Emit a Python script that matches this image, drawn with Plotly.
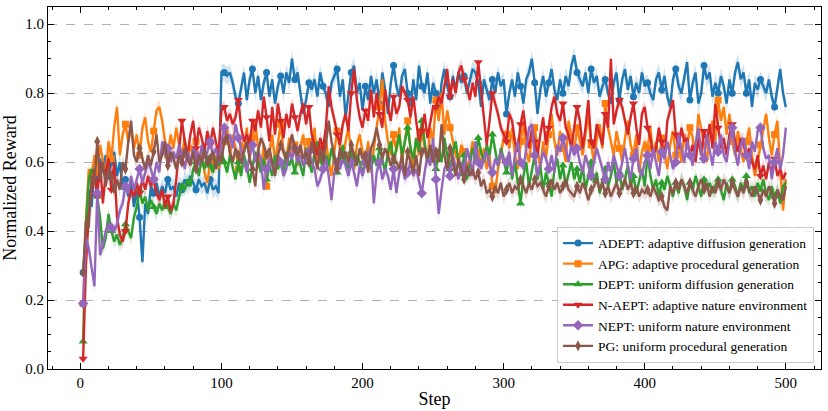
import plotly.graph_objects as go

# training steps (every 2 steps)
steps = list(range(2, 502, 2))

adept = [
    0.28, 0.41, 0.52, 0.47, 0.58, 0.55, 0.61, 0.57, 0.62, 0.55, 0.60, 0.63, 0.56, 0.60, 0.52, 0.55, 0.50, 0.54, 0.47, 0.52, 0.44, 0.31, 0.48, 0.45, 0.53,
    0.51, 0.54, 0.50, 0.53, 0.51, 0.55, 0.52, 0.53, 0.50, 0.54, 0.52, 0.55, 0.53, 0.56, 0.54, 0.52, 0.55, 0.53, 0.54, 0.51, 0.55, 0.52, 0.53, 0.51, 0.86,
    0.86, 0.85, 0.86, 0.83, 0.79, 0.77, 0.82, 0.86, 0.78, 0.84, 0.87, 0.80, 0.85, 0.78, 0.83, 0.86, 0.79, 0.84, 0.77, 0.82, 0.85, 0.80, 0.86, 0.83, 0.90,
    0.84, 0.86, 0.80, 0.74, 0.78, 0.83, 0.81, 0.84, 0.79, 0.86, 0.82, 0.80, 0.76, 0.83, 0.85, 0.87, 0.79, 0.84, 0.73, 0.80, 0.86, 0.88, 0.80, 0.83, 0.75,
    0.82, 0.78, 0.85, 0.80, 0.84, 0.77, 0.86, 0.81, 0.74, 0.83, 0.88, 0.82, 0.79, 0.85, 0.87, 0.80, 0.76, 0.84, 0.78, 0.88, 0.82, 0.80, 0.86, 0.77, 0.83,
    0.80, 0.74, 0.83, 0.87, 0.82, 0.79, 0.85, 0.81, 0.86, 0.83, 0.85, 0.80, 0.84, 0.87, 0.86, 0.83, 0.76, 0.84, 0.81, 0.78, 0.84, 0.80, 0.86, 0.82, 0.84,
    0.74, 0.80, 0.84, 0.79, 0.86, 0.82, 0.77, 0.84, 0.86, 0.90, 0.83, 0.74, 0.81, 0.85, 0.79, 0.83, 0.87, 0.81, 0.78, 0.84, 0.80, 0.85, 0.82, 0.88, 0.91,
    0.86, 0.84, 0.82, 0.86, 0.80, 0.87, 0.83, 0.85, 0.79, 0.82, 0.84, 0.80, 0.77, 0.83, 0.86, 0.78, 0.84, 0.87, 0.81, 0.85, 0.79, 0.83, 0.80, 0.86, 0.82,
    0.83, 0.80, 0.78, 0.84, 0.86, 0.81, 0.85, 0.79, 0.76, 0.84, 0.87, 0.82, 0.80, 0.85, 0.89, 0.78, 0.83, 0.86, 0.77, 0.80, 0.88, 0.84, 0.86, 0.79, 0.83,
    0.80, 0.85, 0.82, 0.77, 0.84, 0.80, 0.86, 0.89, 0.84, 0.86, 0.80, 0.84, 0.76, 0.83, 0.81, 0.84, 0.82, 0.80, 0.84, 0.79, 0.76, 0.82, 0.87, 0.80, 0.76,
]

apg = [
    0.19, 0.43, 0.58, 0.55, 0.62, 0.57, 0.65, 0.60, 0.56, 0.66, 0.61, 0.70, 0.76, 0.62, 0.68, 0.71, 0.66, 0.70, 0.64, 0.68, 0.62, 0.70, 0.73, 0.66, 0.63,
    0.69, 0.75, 0.76, 0.72, 0.66, 0.62, 0.68, 0.64, 0.70, 0.65, 0.62, 0.67, 0.60, 0.65, 0.62, 0.66, 0.59, 0.63, 0.57, 0.54, 0.60, 0.57, 0.62, 0.58, 0.63,
    0.66, 0.70, 0.62, 0.68, 0.64, 0.58, 0.66, 0.63, 0.70, 0.61, 0.67, 0.72, 0.64, 0.58, 0.65, 0.53, 0.62, 0.68, 0.60, 0.66, 0.71, 0.63, 0.60, 0.67, 0.62,
    0.65, 0.59, 0.64, 0.68, 0.61, 0.66, 0.63, 0.70, 0.58, 0.65, 0.62, 0.67, 0.60, 0.56, 0.63, 0.69, 0.64, 0.61, 0.66, 0.70, 0.62, 0.58, 0.65, 0.68, 0.63,
    0.60, 0.66, 0.57, 0.64, 0.70, 0.76, 0.84, 0.72, 0.66, 0.62, 0.68, 0.63, 0.70, 0.60, 0.66, 0.72, 0.64, 0.58, 0.67, 0.62, 0.69, 0.64, 0.60, 0.70, 0.66,
    0.78, 0.72, 0.80, 0.68, 0.75, 0.70, 0.66, 0.62, 0.60, 0.65, 0.63, 0.58, 0.61, 0.66, 0.60, 0.63, 0.59, 0.64, 0.58, 0.62, 0.53, 0.51, 0.58, 0.62, 0.67,
    0.68, 0.64, 0.70, 0.62, 0.58, 0.66, 0.72, 0.63, 0.60, 0.67, 0.70, 0.64, 0.58, 0.66, 0.61, 0.68, 0.74, 0.66, 0.62, 0.69, 0.64, 0.60, 0.72, 0.67, 0.63,
    0.70, 0.66, 0.62, 0.68, 0.74, 0.65, 0.60, 0.67, 0.71, 0.64, 0.77, 0.70, 0.66, 0.62, 0.69, 0.64, 0.60, 0.67, 0.72, 0.65, 0.62, 0.68, 0.57, 0.63, 0.66,
    0.64, 0.70, 0.62, 0.66, 0.60, 0.67, 0.63, 0.58, 0.65, 0.69, 0.62, 0.66, 0.60, 0.68, 0.64, 0.70, 0.67, 0.62, 0.74, 0.70, 0.65, 0.60, 0.68, 0.72, 0.66,
    0.78, 0.72, 0.76, 0.68, 0.74, 0.66, 0.62, 0.69, 0.64, 0.60, 0.66, 0.70, 0.62, 0.56, 0.60, 0.65, 0.70, 0.74, 0.67, 0.62, 0.68, 0.72, 0.58, 0.46, 0.55,
]

dept = [
    0.08, 0.42, 0.55, 0.58, 0.56, 0.50, 0.44, 0.35, 0.38, 0.45, 0.40, 0.37, 0.39, 0.36, 0.38, 0.42, 0.40, 0.38, 0.44, 0.47, 0.52, 0.48, 0.50, 0.46, 0.49,
    0.47, 0.45, 0.48, 0.46, 0.49, 0.47, 0.45, 0.48, 0.46, 0.50, 0.53, 0.52, 0.55, 0.53, 0.58, 0.60, 0.56, 0.61, 0.58, 0.62, 0.59, 0.57, 0.61, 0.59, 0.63,
    0.60, 0.57, 0.62, 0.58, 0.55, 0.60, 0.56, 0.62, 0.59, 0.54, 0.58, 0.63, 0.60, 0.57, 0.61, 0.55, 0.59, 0.56, 0.62, 0.58, 0.60, 0.57, 0.63, 0.59, 0.61,
    0.57, 0.62, 0.59, 0.56, 0.64, 0.60, 0.57, 0.63, 0.66, 0.61, 0.58, 0.62, 0.59, 0.64, 0.60, 0.57, 0.61, 0.65, 0.60, 0.58, 0.63, 0.59, 0.62, 0.60, 0.57,
    0.60, 0.63, 0.58, 0.62, 0.59, 0.64, 0.61, 0.57, 0.63, 0.66, 0.60, 0.64, 0.68, 0.62, 0.66, 0.70, 0.64, 0.61, 0.67, 0.63, 0.72, 0.66, 0.60, 0.64, 0.62,
    0.58, 0.64, 0.60, 0.67, 0.62, 0.58, 0.63, 0.66, 0.60, 0.56, 0.62, 0.55, 0.59, 0.64, 0.61, 0.67, 0.63, 0.60, 0.65, 0.62, 0.68, 0.63, 0.59, 0.64, 0.61,
    0.57, 0.62, 0.55, 0.60, 0.54, 0.48, 0.56, 0.60, 0.53, 0.58, 0.62, 0.55, 0.59, 0.52, 0.57, 0.54, 0.50, 0.58, 0.61, 0.55, 0.59, 0.53, 0.57, 0.60, 0.55,
    0.58, 0.54, 0.59, 0.52, 0.56, 0.60, 0.54, 0.57, 0.51, 0.55, 0.58, 0.53, 0.56, 0.60, 0.54, 0.57, 0.52, 0.55, 0.59, 0.53, 0.56, 0.51, 0.55, 0.58, 0.53,
    0.62, 0.56, 0.52, 0.55, 0.50, 0.54, 0.52, 0.56, 0.53, 0.50, 0.54, 0.51, 0.55, 0.53, 0.49, 0.54, 0.52, 0.56, 0.53, 0.50, 0.55, 0.52, 0.54, 0.51, 0.53,
    0.55, 0.52, 0.49, 0.54, 0.51, 0.55, 0.53, 0.50, 0.54, 0.52, 0.56, 0.51, 0.53, 0.50, 0.54, 0.52, 0.55, 0.51, 0.49, 0.53, 0.50, 0.52, 0.48, 0.53, 0.54,
]

naept = [
    0.03, 0.30, 0.45, 0.52, 0.58, 0.50, 0.60, 0.48, 0.57, 0.61, 0.52, 0.60, 0.44, 0.39, 0.37, 0.40, 0.48, 0.52, 0.50, 0.54, 0.51, 0.55, 0.52, 0.56, 0.53,
    0.55, 0.51, 0.49, 0.52, 0.47, 0.50, 0.46, 0.48, 0.55, 0.63, 0.72, 0.66, 0.62, 0.68, 0.72, 0.64, 0.70, 0.67, 0.63, 0.69, 0.65, 0.70, 0.66, 0.62, 0.75,
    0.76, 0.72, 0.74, 0.71, 0.73, 0.78, 0.70, 0.66, 0.68, 0.65, 0.72, 0.69, 0.75, 0.70, 0.79, 0.73, 0.66, 0.76, 0.68, 0.77, 0.72, 0.67, 0.74, 0.70, 0.77,
    0.73, 0.69, 0.74, 0.77, 0.71, 0.76, 0.68, 0.65, 0.62, 0.67, 0.64, 0.70, 0.82, 0.76, 0.72, 0.68, 0.65, 0.71, 0.74, 0.69, 0.80, 0.87, 0.78, 0.73, 0.70,
    0.75, 0.72, 0.81, 0.73, 0.80, 0.74, 0.70, 0.81, 0.76, 0.72, 0.79, 0.74, 0.76, 0.82, 0.80, 0.78, 0.73, 0.79, 0.72, 0.66, 0.69, 0.74, 0.67, 0.71, 0.76,
    0.76, 0.79, 0.77, 0.82, 0.87, 0.79, 0.84, 0.80, 0.86, 0.88, 0.84, 0.82, 0.78, 0.83, 0.79, 0.89, 0.81, 0.74, 0.65, 0.72, 0.80, 0.77, 0.74, 0.70, 0.68,
    0.66, 0.74, 0.72, 0.66, 0.63, 0.71, 0.75, 0.68, 0.64, 0.70, 0.66, 0.62, 0.68, 0.73, 0.65, 0.70, 0.76, 0.79, 0.74, 0.72, 0.77, 0.70, 0.68, 0.64, 0.70,
    0.76, 0.72, 0.64, 0.70, 0.78, 0.66, 0.64, 0.71, 0.68, 0.65, 0.74, 0.70, 0.90, 0.71, 0.75, 0.78, 0.76, 0.72, 0.68, 0.73, 0.77, 0.70, 0.65, 0.74, 0.76,
    0.70, 0.67, 0.62, 0.64, 0.70, 0.66, 0.61, 0.72, 0.75, 0.78, 0.68, 0.64, 0.70, 0.66, 0.67, 0.62, 0.65, 0.60, 0.67, 0.62, 0.69, 0.66, 0.71, 0.64, 0.77,
    0.70, 0.64, 0.67, 0.62, 0.68, 0.71, 0.66, 0.63, 0.67, 0.65, 0.62, 0.64, 0.60, 0.58, 0.62, 0.56, 0.59, 0.55, 0.60, 0.57, 0.61, 0.56, 0.58, 0.55, 0.57,
]

nept = [
    0.19, 0.38, 0.35, 0.30, 0.24, 0.51, 0.33, 0.36, 0.40, 0.42, 0.41, 0.40, 0.42, 0.46, 0.48, 0.53, 0.51, 0.56, 0.52, 0.55, 0.58, 0.54, 0.57, 0.60, 0.58,
    0.55, 0.60, 0.57, 0.66, 0.62, 0.64, 0.60, 0.63, 0.61, 0.65, 0.62, 0.58, 0.63, 0.60, 0.64, 0.62, 0.59, 0.65, 0.61, 0.63, 0.66, 0.62, 0.64, 0.60, 0.66,
    0.70, 0.66, 0.68, 0.64, 0.71, 0.67, 0.63, 0.60, 0.57, 0.62, 0.65, 0.60, 0.63, 0.61, 0.52, 0.58, 0.61, 0.59, 0.57, 0.62, 0.60, 0.56, 0.58, 0.63, 0.61,
    0.64, 0.60, 0.62, 0.59, 0.61, 0.63, 0.60, 0.58, 0.53, 0.55, 0.58, 0.61, 0.56, 0.49, 0.57, 0.60, 0.58, 0.61, 0.59, 0.56, 0.60, 0.57, 0.53, 0.59, 0.56,
    0.60, 0.63, 0.62, 0.48, 0.57, 0.60, 0.55, 0.58, 0.56, 0.52, 0.58, 0.51, 0.57, 0.59, 0.55, 0.57, 0.60, 0.56, 0.58, 0.54, 0.51, 0.57, 0.62, 0.59, 0.67,
    0.55, 0.45, 0.52, 0.58, 0.60, 0.56, 0.62, 0.58, 0.55, 0.60, 0.57, 0.64, 0.61, 0.56, 0.66, 0.60, 0.58, 0.61, 0.63, 0.59, 0.57, 0.61, 0.59, 0.63, 0.60,
    0.60, 0.63, 0.56, 0.62, 0.66, 0.60, 0.58, 0.64, 0.70, 0.71, 0.62, 0.56, 0.60, 0.63, 0.61, 0.58, 0.62, 0.57, 0.65, 0.63, 0.67, 0.64, 0.60, 0.65, 0.62,
    0.64, 0.60, 0.57, 0.62, 0.59, 0.56, 0.60, 0.64, 0.61, 0.58, 0.55, 0.60, 0.57, 0.62, 0.59, 0.56, 0.60, 0.64, 0.59, 0.55, 0.61, 0.64, 0.58, 0.56, 0.60,
    0.62, 0.58, 0.64, 0.60, 0.56, 0.63, 0.61, 0.66, 0.62, 0.58, 0.60, 0.68, 0.64, 0.60, 0.66, 0.62, 0.59, 0.65, 0.70, 0.63, 0.61, 0.68, 0.64, 0.59, 0.66,
    0.63, 0.68, 0.62, 0.60, 0.66, 0.70, 0.63, 0.59, 0.65, 0.67, 0.62, 0.58, 0.66, 0.63, 0.69, 0.70, 0.64, 0.61, 0.62, 0.55, 0.60, 0.64, 0.58, 0.62, 0.70,
]

pg = [
    0.28, 0.43, 0.41, 0.56, 0.54, 0.66, 0.55, 0.60, 0.53, 0.58, 0.56, 0.51, 0.55, 0.52, 0.60, 0.58, 0.66, 0.72, 0.62, 0.60, 0.64, 0.61, 0.58, 0.62, 0.59,
    0.63, 0.68, 0.60, 0.62, 0.66, 0.59, 0.63, 0.61, 0.58, 0.62, 0.60, 0.64, 0.61, 0.59, 0.63, 0.58, 0.62, 0.60, 0.64, 0.59, 0.61, 0.63, 0.58, 0.62, 0.60,
    0.66, 0.68, 0.63, 0.60, 0.64, 0.62, 0.60, 0.63, 0.66, 0.61, 0.58, 0.53, 0.63, 0.67, 0.65, 0.62, 0.64, 0.60, 0.56, 0.62, 0.65, 0.63, 0.61, 0.64, 0.68,
    0.64, 0.62, 0.65, 0.61, 0.63, 0.60, 0.66, 0.62, 0.58, 0.64, 0.61, 0.65, 0.72, 0.66, 0.62, 0.58, 0.64, 0.61, 0.63, 0.60, 0.65, 0.62, 0.59, 0.64, 0.61,
    0.62, 0.57, 0.64, 0.66, 0.70, 0.65, 0.61, 0.64, 0.62, 0.59, 0.61, 0.60, 0.58, 0.62, 0.56, 0.63, 0.60, 0.57, 0.62, 0.56, 0.63, 0.64, 0.61, 0.65, 0.60,
    0.63, 0.60, 0.71, 0.62, 0.58, 0.64, 0.60, 0.56, 0.61, 0.58, 0.55, 0.59, 0.56, 0.58, 0.55, 0.57, 0.53, 0.55, 0.51, 0.52, 0.50, 0.53, 0.51, 0.54, 0.50,
    0.52, 0.54, 0.51, 0.53, 0.52, 0.55, 0.53, 0.51, 0.54, 0.52, 0.55, 0.53, 0.54, 0.52, 0.50, 0.53, 0.55, 0.52, 0.54, 0.51, 0.53, 0.55, 0.52, 0.51, 0.50,
    0.53, 0.51, 0.54, 0.52, 0.49, 0.52, 0.53, 0.55, 0.52, 0.54, 0.51, 0.53, 0.50, 0.52, 0.54, 0.51, 0.53, 0.55, 0.52, 0.54, 0.51, 0.53, 0.50, 0.52, 0.51,
    0.52, 0.50, 0.53, 0.51, 0.49, 0.50, 0.47, 0.46, 0.53, 0.51, 0.54, 0.52, 0.55, 0.53, 0.51, 0.54, 0.52, 0.50, 0.53, 0.55, 0.52, 0.54, 0.50, 0.53, 0.51,
    0.54, 0.52, 0.55, 0.53, 0.51, 0.54, 0.52, 0.50, 0.53, 0.51, 0.54, 0.52, 0.50, 0.53, 0.51, 0.49, 0.52, 0.50, 0.53, 0.51, 0.48, 0.52, 0.50, 0.49, 0.53,
]

# half-width of the shaded spread around each curve
spreads = [0.025, 0.02, 0.02, 0.02, 0.02, 0.02]

names = [
    "ADEPT: adaptive diffusion generation",
    "APG: adaptive procedural generation",
    "DEPT: uniform diffusion generation",
    "N-AEPT: adaptive nature environment",
    "NEPT: uniform nature environment",
    "PG: uniform procedural generation",
]
series = [adept, apg, dept, naept, nept, pg]
colors = ["#1f77b4", "#ff7f0e", "#2ca02c", "#d62728", "#9467bd", "#8c564b"]
fills = ["rgba(31,119,180,0.2)", "rgba(255,127,14,0.2)", "rgba(44,160,44,0.2)",
         "rgba(214,39,40,0.2)", "rgba(148,103,189,0.2)", "rgba(140,86,75,0.2)"]
symbols = ["circle", "square", "triangle-up", "triangle-down", "diamond", "diamond-tall"]
msizes = [7, 7, 8, 8, 8, 8]

for s in series:
    assert len(s) == len(steps), len(s)

font = "Liberation Serif"
fig = go.Figure()

for name, ys, col, fc, sym, ms, sp in zip(names, series, colors, fills, symbols, msizes, spreads):
    upper = [v + sp for v in ys]
    lower = [v - sp for v in ys]
    fig.add_trace(go.Scatter(x=steps, y=upper, mode="lines", line=dict(width=0),
                             showlegend=False, hoverinfo="skip"))
    fig.add_trace(go.Scatter(x=steps, y=lower, mode="lines", line=dict(width=0),
                             fill="tonexty", fillcolor=fc, showlegend=False, hoverinfo="skip"))
    fig.add_trace(go.Scatter(x=steps, y=ys, mode="lines", line=dict(color=col, width=2.4),
                             showlegend=False, name=name))
    # markers every 10 steps
    fig.add_trace(go.Scatter(x=steps[::5], y=ys[::5], mode="markers",
                             marker=dict(color=col, symbol=sym, size=ms),
                             showlegend=False, hoverinfo="skip"))
    # legend entry
    fig.add_trace(go.Scatter(x=[None], y=[None], mode="lines+markers", name=name,
                             line=dict(color=col, width=2.4),
                             marker=dict(color=col, symbol=sym, size=ms)))

fig.update_layout(
    width=828, height=411,
    margin=dict(l=48, r=7, t=7, b=42),
    plot_bgcolor="white", paper_bgcolor="white",
    font=dict(family=font, size=15, color="black"),
    legend=dict(x=0.991, y=0.017, xanchor="right", yanchor="bottom",
                traceorder="normal",
                bgcolor="rgba(255,255,255,0.8)", bordercolor="#cccccc", borderwidth=1,
                font=dict(family=font, size=13.5, color="black"), tracegroupgap=0),
)
fig.update_xaxes(
    range=[-22.9, 524.9], tickvals=[0, 100, 200, 300, 400, 500],
    tickfont=dict(family=font, size=15, color="black"),
    showline=True, linecolor="black", linewidth=1, mirror="allticks",
    ticks="inside", ticklen=6, tickcolor="black", automargin=False,
    minor=dict(dtick=20, tick0=0, ticks="inside", ticklen=3, tickcolor="black"),
    showgrid=False, zeroline=False,
    title=dict(text="Step", font=dict(family=font, size=18), standoff=2),
)
fig.update_yaxes(
    range=[0, 1.05], tickvals=[0, 0.2, 0.4, 0.6, 0.8, 1.0], tickformat=".1f",
    tickfont=dict(family=font, size=15, color="black"),
    showline=True, linecolor="black", linewidth=1, mirror="allticks",
    ticks="inside", ticklen=6, tickcolor="black", automargin=False,
    minor=dict(dtick=0.05, tick0=0, ticks="inside", ticklen=3, tickcolor="black", showgrid=False),
    showgrid=True, gridcolor="#b0b0b0", griddash="dash", gridwidth=0.8, zeroline=False,
    title=dict(text="Normalized Reward", font=dict(family=font, size=18), standoff=3),
)

# drop the page's default body margin so the figure sits at the window corner
fig.write_html("out.html", config={"displayModeBar": False},
               post_script="document.body.style.margin='0';")
